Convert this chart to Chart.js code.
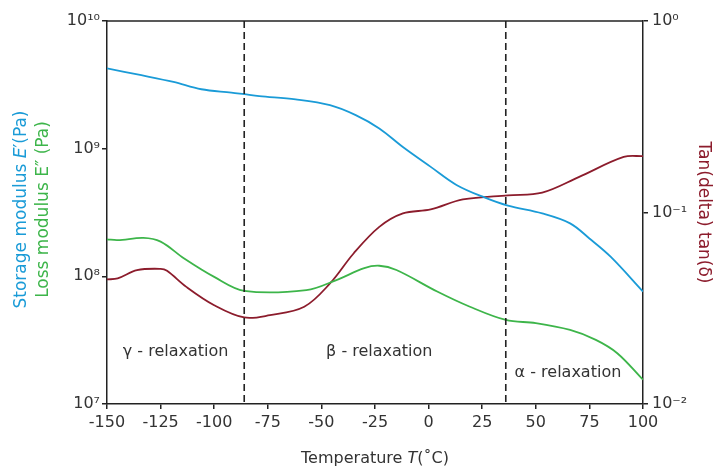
<!DOCTYPE html>
<html>
<head>
<meta charset="utf-8">
<script src="https://cdn.jsdelivr.net/npm/chart.js@4"></script>
<style>
html,body{margin:0;padding:0;background:#fff;}
canvas{display:block;}
</style>
</head>
<body>
<canvas id="c" width="722" height="469"></canvas>
<script>
// ---- data ----
const storageTemps = [-150, -134, -119, -106, -92, -86, -79, -62, -46, -34, -23, -12, 1, 13, 26, 37, 53, 66, 75, 85, 100];
const storageModulus = [4.25e9, 3.76e9, 3.33e9, 2.92e9, 2.75e9, 2.67e9, 2.58e9, 2.43e9, 2.19e9, 1.83e9, 1.44e9, 1.03e9, 7.2e8, 5.2e8, 4.15e8, 3.58e8, 3.11e8, 2.60e8, 1.98e8, 1.42e8, 7.6e7];

const lossTemps = [-150, -145, -133, -125, -114, -100, -86, -57, -43, -30, -23, -15, 4, 19, 36, 50, 66, 78, 88, 100];
const lossModulus = [1.95e8, 1.92e8, 2.00e8, 1.87e8, 1.38e8, 9.9e7, 7.7e7, 7.8e7, 9.35e7, 1.16e8, 1.21e8, 1.12e8, 7.6e7, 5.8e7, 4.55e7, 4.3e7, 3.8e7, 3.18e7, 2.5e7, 1.55e7];

const tanTemps = [-150, -145, -136, -125, -122, -113, -100, -86, -74, -58, -46, -35, -23, -12, 1, 16, 37, 53, 70, 91, 100];
const tanDelta = [0.0447, 0.0453, 0.050, 0.0508, 0.0496, 0.0409, 0.0328, 0.0283, 0.0291, 0.0322, 0.0426, 0.0611, 0.0841, 0.0989, 0.1037, 0.117, 0.123, 0.127, 0.153, 0.195, 0.197];

const transitionTemps = [-86, 36];
const regionLabels = ['γ - relaxation', 'β - relaxation', 'α - relaxation'];
const regionLabelTemps = [-118, -23, 65];
const regionLabelLeftVals = [2.56e7, 2.56e7, 1.74e7];

const xTickStep = 25;
const leftTickValues = [1e7, 1e8, 1e9, 1e10];
const leftTickLabels = ['10⁷', '10⁸', '10⁹', '10¹⁰'];
const rightTickValues = [0.01, 0.1, 1];
const rightTickLabels = ['10⁻²', '10⁻¹', '10⁰'];

const toPts = (xs, ys) => xs.map((x, i) => ({x: x, y: ys[i]}));

const BLUE = '#1a9bd7', GREEN = '#3db54a', RED = '#8c1c2c', AXIS = '#222', TEXT = '#333';
const FONT = '"DejaVu Sans", sans-serif';

function drawRuns(ctx, runs, size) {
  let total = 0;
  runs.forEach(r => { ctx.font = (r.italic ? 'italic ' : '') + size + 'px ' + FONT; r.w = ctx.measureText(r.t).width; total += r.w; });
  let x = -total / 2;
  runs.forEach(r => { ctx.font = (r.italic ? 'italic ' : '') + size + 'px ' + FONT; ctx.fillText(r.t, x, 0); x += r.w; });
}

const overlay = {
  id: 'overlay',
  afterDatasetsDraw(chart) {
    const ctx = chart.ctx, a = chart.chartArea, xs = chart.scales.x, yl = chart.scales.y;
    ctx.save();
    ctx.strokeStyle = AXIS; ctx.lineWidth = 1.6; ctx.setLineDash([7, 4]);
    transitionTemps.forEach(t => {
      const px = xs.getPixelForValue(t);
      ctx.beginPath(); ctx.moveTo(px, a.top); ctx.lineTo(px, a.bottom); ctx.stroke();
    });
    ctx.setLineDash([]);
    ctx.lineWidth = 1.5;
    ctx.beginPath(); ctx.moveTo(a.left, a.top); ctx.lineTo(a.right, a.top); ctx.stroke();
    ctx.fillStyle = TEXT; ctx.textAlign = 'center'; ctx.textBaseline = 'middle';
    ctx.font = '16px ' + FONT;
    regionLabels.forEach((s, i) => {
      ctx.fillText(s, xs.getPixelForValue(regionLabelTemps[i]), yl.getPixelForValue(regionLabelLeftVals[i]));
    });
    ctx.restore();
  },
  afterDraw(chart) {
    const ctx = chart.ctx, a = chart.chartArea;
    ctx.save();
    ctx.textBaseline = 'middle'; ctx.textAlign = 'left';
    const cy = (a.top + a.bottom) / 2;
    ctx.save(); ctx.translate(22, cy - 3); ctx.rotate(-Math.PI / 2);
    ctx.fillStyle = BLUE;
    drawRuns(ctx, [{t: 'Storage modulus '}, {t: 'E', italic: true}, {t: '′(Pa)'}], 17);
    ctx.restore();
    ctx.save(); ctx.translate(44, cy - 3); ctx.rotate(-Math.PI / 2);
    ctx.fillStyle = GREEN;
    drawRuns(ctx, [{t: 'Loss modulus E″ (Pa)'}], 17);
    ctx.restore();
    ctx.save(); ctx.translate(703, cy); ctx.rotate(Math.PI / 2);
    ctx.fillStyle = RED;
    drawRuns(ctx, [{t: 'Tan(delta) tan(δ)'}], 17);
    ctx.restore();
    ctx.save(); ctx.translate((a.left + a.right) / 2, 459);
    ctx.fillStyle = TEXT;
    drawRuns(ctx, [{t: 'Temperature '}, {t: 'T', italic: true}, {t: '(˚C)'}], 16);
    ctx.restore();
    ctx.restore();
  }
};

const gridCfg = {display: true, drawOnChartArea: false, drawTicks: true, tickLength: 5, color: AXIS, lineWidth: 1.5};
const borderCfg = {display: true, color: AXIS, width: 1.5};

new Chart(document.getElementById('c'), {
  type: 'line',
  data: {
    datasets: [
      {data: toPts(storageTemps, storageModulus), yAxisID: 'y', borderColor: BLUE, borderWidth: 1.8, pointRadius: 0, tension: 0.35, fill: false},
      {data: toPts(lossTemps, lossModulus), yAxisID: 'y', borderColor: GREEN, borderWidth: 1.8, pointRadius: 0, tension: 0.35, fill: false},
      {data: toPts(tanTemps, tanDelta), yAxisID: 'y2', borderColor: RED, borderWidth: 1.8, pointRadius: 0, tension: 0.35, fill: false}
    ]
  },
  options: {
    responsive: false,
    animation: false,
    layout: {padding: {top: 21, left: 0, right: 0, bottom: 0}},
    plugins: {legend: {display: false}, tooltip: {enabled: false}},
    scales: {
      x: {
        type: 'linear', min: -150, max: 100,
        afterFit(s) { s.height = 65; },
        ticks: {stepSize: xTickStep, color: TEXT, font: {family: FONT, size: 16}, padding: 4, maxRotation: 0},
        grid: gridCfg, border: borderCfg
      },
      y: {
        type: 'logarithmic', position: 'left', min: leftTickValues[0], max: leftTickValues[leftTickValues.length - 1],
        afterFit(s) { s.width = 107; },
        afterBuildTicks(s) { s.ticks = leftTickValues.map(v => ({value: v})); },
        ticks: {color: TEXT, font: {family: FONT, size: 16}, padding: 2,
          callback: (v) => { const i = leftTickValues.indexOf(v); return i >= 0 ? leftTickLabels[i] : ''; }},
        grid: gridCfg, border: borderCfg
      },
      y2: {
        type: 'logarithmic', position: 'right', min: rightTickValues[0], max: rightTickValues[rightTickValues.length - 1],
        afterFit(s) { s.width = 79; },
        afterBuildTicks(s) { s.ticks = rightTickValues.map(v => ({value: v})); },
        ticks: {color: TEXT, font: {family: FONT, size: 16}, padding: 4,
          callback: (v) => { const i = rightTickValues.indexOf(v); return i >= 0 ? rightTickLabels[i] : ''; }},
        grid: gridCfg, border: borderCfg
      }
    }
  },
  plugins: [overlay]
});
</script>
</body>
</html>
